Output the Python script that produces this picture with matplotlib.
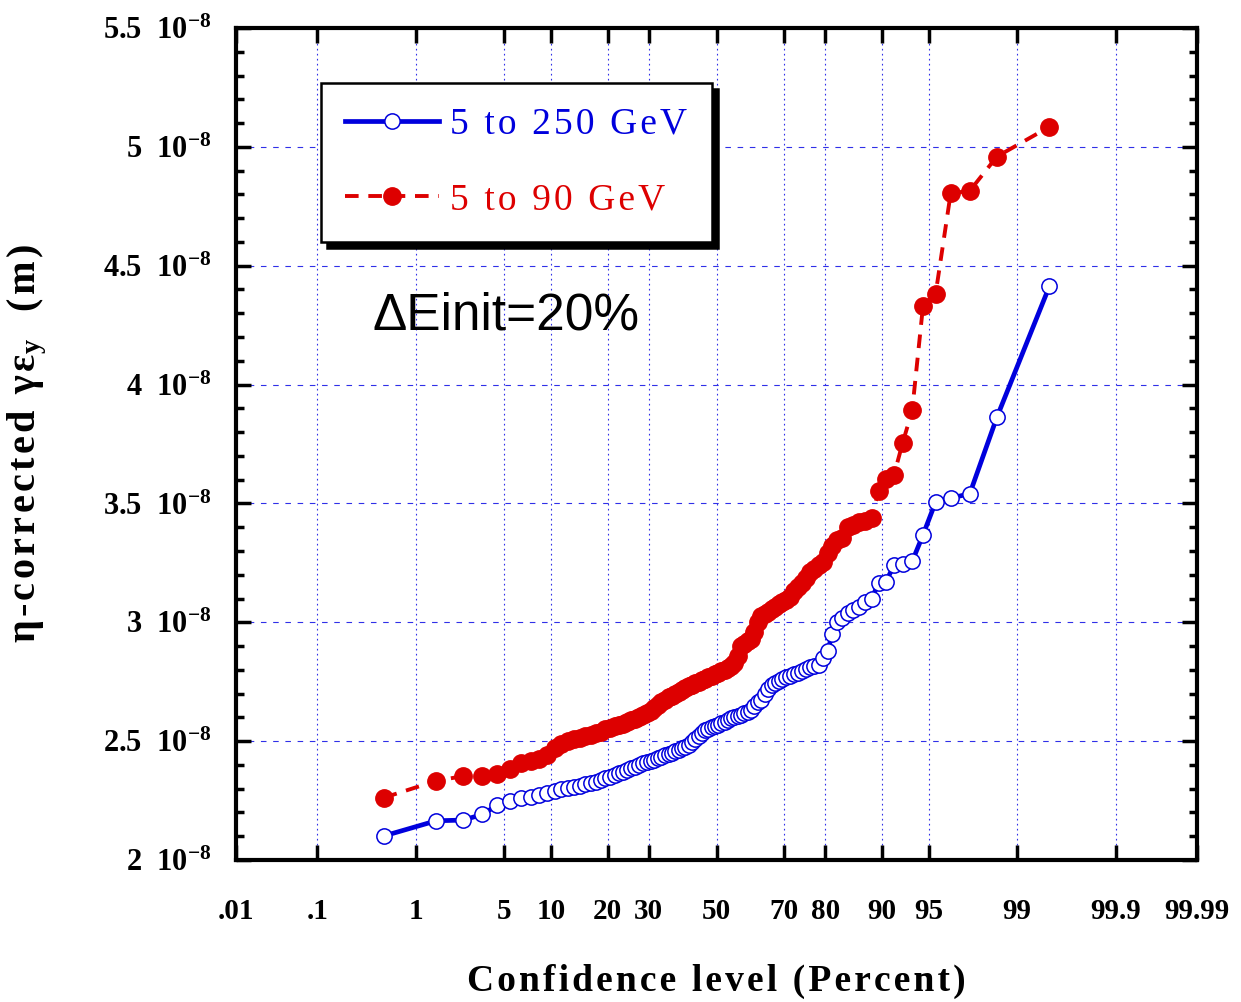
import numpy as np
import matplotlib
matplotlib.use("Agg")
import matplotlib.pyplot as plt
from matplotlib.ticker import FixedLocator, MultipleLocator, FuncFormatter
from statistics import NormalDist

plt.rcParams['font.family'] = ['Liberation Serif', 'DejaVu Serif']
plt.rcParams['mathtext.fontset'] = 'custom'
plt.rcParams['mathtext.rm'] = 'Liberation Serif:bold'
plt.rcParams['mathtext.bf'] = 'Liberation Serif:bold'
plt.rcParams['mathtext.it'] = 'Liberation Serif:bold'
plt.rcParams['mathtext.default'] = 'bf'

# sorted emittances (units of 1e-8 m), 100 seeds each
emit_250 = [2.101, 2.165, 2.168, 2.192, 2.231, 2.249, 2.259, 2.266, 2.273, 2.283,
            2.290, 2.297, 2.302, 2.308, 2.312, 2.318, 2.324, 2.330, 2.336, 2.343,
            2.350, 2.357, 2.364, 2.371, 2.378, 2.385, 2.392, 2.399, 2.406, 2.411,
            2.416, 2.422, 2.428, 2.434, 2.440, 2.446, 2.452, 2.458, 2.464, 2.470,
            2.477, 2.483, 2.495, 2.510, 2.522, 2.535, 2.545, 2.553, 2.560, 2.565,
            2.570, 2.576, 2.582, 2.590, 2.596, 2.602, 2.607, 2.612, 2.618, 2.623,
            2.630, 2.648, 2.665, 2.675, 2.700, 2.720, 2.735, 2.745, 2.755, 2.762,
            2.768, 2.775, 2.782, 2.788, 2.795, 2.805, 2.812, 2.818, 2.822, 2.850,
            2.880, 2.950, 3.000, 3.020, 3.037, 3.050, 3.064, 3.085, 3.100, 3.164,
            3.170, 3.239, 3.244, 3.256, 3.368, 3.506, 3.522, 3.541, 3.863, 4.413]

emit_90 = [2.262, 2.333, 2.353, 2.354, 2.360, 2.381, 2.406, 2.416, 2.427, 2.441,
           2.470, 2.490, 2.500, 2.510, 2.515, 2.520, 2.527, 2.533, 2.540, 2.550,
           2.556, 2.562, 2.568, 2.574, 2.580, 2.587, 2.595, 2.603, 2.611, 2.620,
           2.628, 2.640, 2.652, 2.665, 2.675, 2.685, 2.692, 2.700, 2.708, 2.715,
           2.722, 2.730, 2.737, 2.744, 2.750, 2.757, 2.763, 2.770, 2.776, 2.782,
           2.788, 2.795, 2.800, 2.807, 2.815, 2.830, 2.860, 2.900, 2.910, 2.920,
           2.930, 2.960, 3.000, 3.025, 3.035, 3.045, 3.055, 3.065, 3.075, 3.085,
           3.095, 3.105, 3.130, 3.150, 3.165, 3.185, 3.210, 3.225, 3.240, 3.255,
           3.290, 3.320, 3.345, 3.355, 3.400, 3.410, 3.420, 3.425, 3.440, 3.552,
           3.604, 3.618, 3.753, 3.891, 4.332, 4.381, 4.804, 4.815, 4.959, 5.084]

xticks = [0.01, 0.1, 1, 5, 10, 20, 30, 50, 70, 80, 90, 95, 99, 99.9, 99.99]
xtick_labels = ['.01', '.1', '1', '5', '10', '20', '30', '50', '70', '80',
                '90', '95', '99', '99.9', '99.99']

# plotting positions (percent) for a normal probability plot
def plot_pos(n):
    return (np.arange(1, n + 1) - 0.5) / n * 100

nd = NormalDist()
_ppf = np.vectorize(lambda q: nd.inv_cdf(q), otypes=[float])
_cdf = np.vectorize(lambda z: nd.cdf(z), otypes=[float])

def fwd(p):
    q = np.clip(np.asarray(p, dtype=float) / 100.0, 1e-9, 1 - 1e-9)
    return _ppf(q)

def inv(z):
    return 100.0 * _cdf(np.asarray(z, dtype=float))

def spaced(s, sep='\u200a'):
    # crude letter spacing
    return sep.join(s)

blue = '#0000dd'
red = '#dd0000'
grid_c = '#3030e8'

fig = plt.figure(figsize=(12.41, 10.02), dpi=100)
ax = fig.add_axes([0.1902, 0.1417, 0.7744, 0.8304])
ax.set_xscale('function', functions=(fwd, inv))

x1 = plot_pos(len(emit_250))
x2 = plot_pos(len(emit_90))
y1 = np.array(emit_250) * 1e-8
y2 = np.array(emit_90) * 1e-8

ax.plot(x1, y1, '-o', color=blue, lw=3.4, ms=11, mfc='white', mec=blue,
        mew=1.1, label=spaced('5 to 250 GeV'), zorder=3)
ax.plot(x2, y2, ls=(0, (3.5, 2.5)), marker='o', color=red, lw=2.8, ms=12.5,
        mfc=red, mec=red, label=spaced('5 to 90 GeV'), zorder=3)

ax.set_xlim(0.01, 99.99)
ax.set_ylim(2e-8, 5.5e-8)
ax.xaxis.set_major_locator(FixedLocator(xticks))
ax.set_xticklabels(xtick_labels)
ax.xaxis.set_minor_locator(FixedLocator([]))
ax.yaxis.set_major_locator(MultipleLocator(0.5e-8))
ax.yaxis.set_minor_locator(MultipleLocator(0.1e-8))
ax.yaxis.set_major_formatter(FuncFormatter(lambda v, pos: f"{v / 1e-8:g}  10$^{{-8}}$"))

for s in ax.spines.values():
    s.set_linewidth(3)
ax.tick_params(which='both', direction='in', top=True, right=True, width=2.5)
ax.tick_params(which='major', length=11)
ax.tick_params(which='minor', length=6)
ax.tick_params(axis='x', pad=27, labelsize=21)
ax.tick_params(axis='y', pad=18, labelsize=22)
for lab in ax.get_xticklabels() + ax.get_yticklabels():
    lab.set_fontweight('bold')

ax.set_axisbelow(True)
ax.grid(True, axis='y', color=grid_c, lw=0.8, ls=(0, (5, 6)))
ax.grid(True, axis='x', color=grid_c, lw=0.8, ls=(0, (1.5, 3)))

ax.set_xlabel(spaced('Confidence level (Percent)'), fontsize=27, fontweight='bold')
ax.xaxis.set_label_coords(0.5, -0.125)
ax.set_ylabel(spaced('η-corrected γε') + '$_{y}$' + spaced('  (m)'),
              fontsize=29, fontweight='bold')
ax.yaxis.set_label_coords(-0.195, 0.5)

ax.text(0.142, 0.654, 'ΔEinit=20%', transform=ax.transAxes, fontsize=37,
        family='Liberation Sans', va='center', ha='left')

leg = ax.legend(loc='upper left', bbox_to_anchor=(0.0885, 0.934),
                borderaxespad=0, fontsize=27, handlelength=2.5,
                handletextpad=0.3, labelspacing=1.1, borderpad=0.65,
                fancybox=False, edgecolor='black', framealpha=1,
                labelcolor='linecolor',
                shadow={'ox': 4.5, 'oy': -4.5, 'color': 'black', 'alpha': 1})
leg.get_frame().set_linewidth(1.8)

fig.savefig('out.png', dpi=100)
